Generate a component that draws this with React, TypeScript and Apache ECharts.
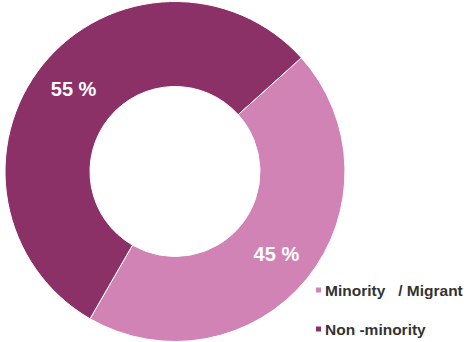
import React, { useEffect, useRef } from "react";
import * as echarts from "echarts";

const categories = ["Minority   / Migrant", "Non -minority"];
const values = [45, 55];
const colors = ["#d283b5", "#8c3068"];

export default function App() {
  const ref = useRef<HTMLDivElement>(null);
  useEffect(() => {
    document.body.style.margin = "0";
    const chart = echarts.init(ref.current!, null, { renderer: "svg" });
    chart.setOption({
      animation: false,
      legend: {
        orient: "vertical",
        left: 314,
        top: 282,
        padding: 0,
        height: 60,
        itemWidth: 7,
        itemHeight: 7,
        itemGap: 23,
        icon: "rect",
        textStyle: {
          fontFamily: "Liberation Sans, Arial, sans-serif",
          fontWeight: "bold",
          fontSize: 15.5,
          color: "#333333",
          padding: [0, 0, 0, -2],
        },
        data: categories,
      },
      series: [
        {
          type: "pie",
          center: [175, 171.5],
          radius: [85, 170],
          startAngle: 42,
          clockwise: true,
          avoidLabelOverlap: false,
          itemStyle: { borderColor: "#ffffff", borderWidth: 1 },
          label: {
            show: true,
            position: "inside",
            formatter: (p: any) => p.value + " %",
            color: "#ffffff",
            fontFamily: "Liberation Sans, Arial, sans-serif",
            fontWeight: "bold",
            fontSize: 20,
          },
          labelLine: { show: false },
          data: categories.map((c, i) => ({
            name: c,
            value: values[i],
            itemStyle: { color: colors[i] },
          })),
        },
      ],
    });
    return () => chart.dispose();
  }, []);
  return <div ref={ref} style={{ width: 471, height: 342 }} />;
}
